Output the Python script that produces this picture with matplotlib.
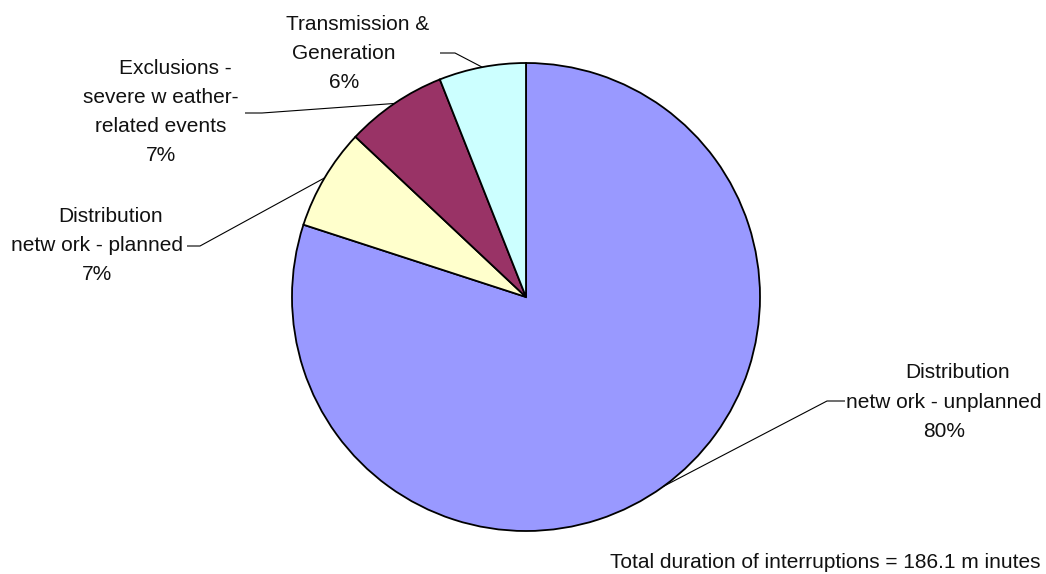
import matplotlib
matplotlib.use("Agg")
import matplotlib.pyplot as plt
import numpy as np

# Share of total interruption duration by cause (%)
categories = [
    "Distribution\nnetw ork - unplanned",
    "Distribution\nnetw ork - planned",
    "Exclusions -\nsevere w eather-\nrelated events",
    "Transmission &\nGeneration",
]
shares = [80, 7, 7, 6]
colors = ["#9999FF", "#FFFFCC", "#993366", "#CCFFFF"]
footer = "Total duration of interruptions = 186.1 m inutes"

W, H = 1046, 574
plt.rcParams["font.family"] = ["Liberation Sans", "DejaVu Sans"]

fig = plt.figure(figsize=(W / 100, H / 100), dpi=100)
ax = fig.add_axes([0, 0, 1, 1])

cx, cy, r = 526, H - 297, 234
wedges, _ = ax.pie(
    shares, colors=colors, startangle=90, counterclock=False,
    center=(cx, cy), radius=r, frame=True,
    wedgeprops=dict(edgecolor="black", linewidth=1.3),
)
ax.set_xlim(0, W)
ax.set_ylim(0, H)
ax.set_aspect("equal")
ax.axis("off")

# label: centre x of the body lines, y of the first line (pixels from top-left)
label_pos = [(944, 371), (97, 214), (161, 66), (344, 22)]
first_line_shift = 14      # wrapped first line sits a little to the right
line_pitch = 29.3
# leader: text-side end and elbow (pixels from top-left)
leader_text = [(845, 401), (187, 246), (245, 113), (440, 53)]
leader_elbow = [(827, 401), (200, 246), (262, 113), (455, 53)]

FS = 15
for w, cat, val, (lx, ly), (tx, ty), (ex, ey) in zip(
        wedges, categories, shares, label_pos, leader_text, leader_elbow):
    mid = np.deg2rad((w.theta1 + w.theta2) / 2)
    px, py = cx + r * np.cos(mid), cy + r * np.sin(mid)
    ax.plot([tx, ex, px], [H - ty, H - ey, py], color="black", lw=0.8,
            solid_capstyle="butt")
    lines = cat.split("\n") + [f"{val}%"]
    for i, line in enumerate(lines):
        x = lx + (first_line_shift if i == 0 else 0)
        ax.text(x, H - (ly + i * line_pitch), line, ha="center",
                va="center_baseline", fontsize=FS, color="#111111")

ax.text(1040, H - 560, footer, ha="right", va="center_baseline",
        fontsize=FS, color="#111111")

fig.savefig("out.png", dpi=100)
